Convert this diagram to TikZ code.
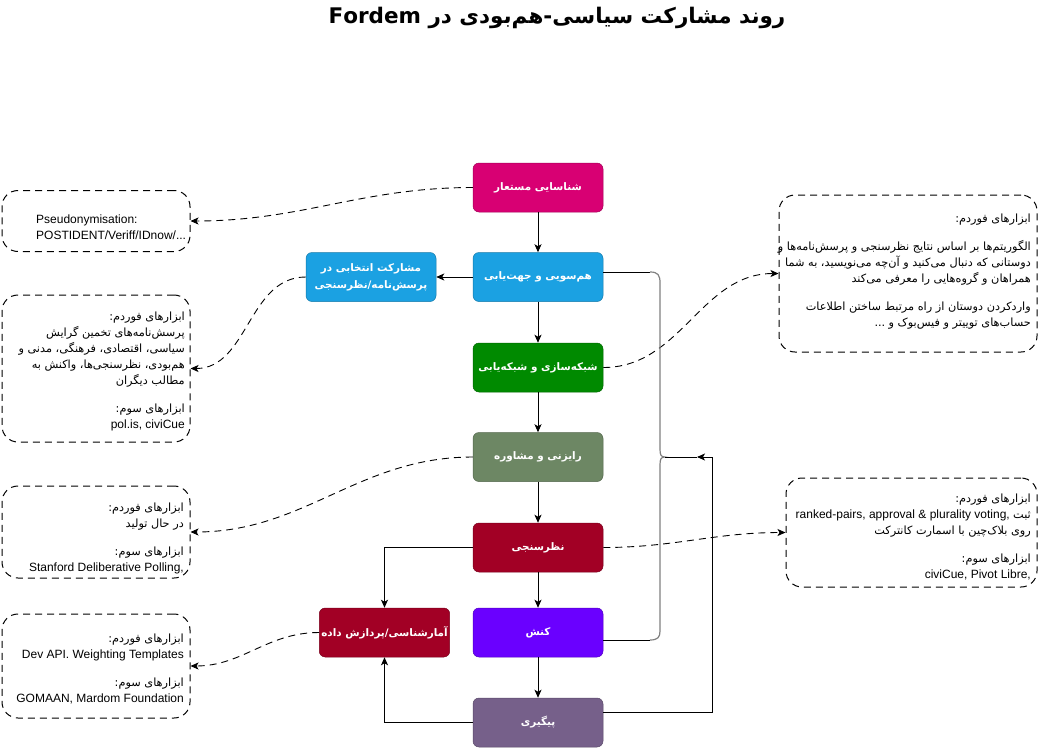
\documentclass[tikz,border=0pt]{standalone}
\usepackage{fontspec}
\usepackage{xcolor}
\setmainfont{Liberation Sans}
\newfontfamily\farsi[Script=Arabic]{DejaVu Sans}
\TeXXeTstate=1
\usetikzlibrary{arrows.meta}
\usetikzlibrary{positioning}
\definecolor{cpink}{HTML}{D80073}
\definecolor{cblue}{HTML}{1BA1E2}
\definecolor{cgreen}{HTML}{008A00}
\definecolor{colive}{HTML}{6D8764}
\definecolor{ccrimson}{HTML}{A20025}
\definecolor{cviolet}{HTML}{6A00FF}
\definecolor{cmauve}{HTML}{76608A}
\newcommand{\fabody}{\farsi\fontsize{11.3}{16}\selectfont}
\newcommand{\rtl}[1]{{\fabody\beginR #1\endR}}
\newcommand{\lab}[1]{\hbox{\fabody:}\rtl{#1}}

\begin{document}
\begin{tikzpicture}[x=1pt,y=-1pt,
  stage/.style={draw=#1!75!black, fill=#1, rounded corners=6pt, minimum width=130pt,
    minimum height=49pt, text=white, align=center, line width=0.5pt, inner sep=2pt,
    font=\farsi\bfseries\fontsize{10.4}{17}\selectfont},
  toolbox/.style={draw, dash pattern=on 7pt off 5pt, rounded corners=16pt, line width=1pt},
  tooltext/.style={inner sep=0pt, font=\fontsize{12}{16}\selectfont},
  arr/.style={-{Stealth[length=8pt,width=7pt,inset=2pt]}, line width=0.9pt},
  link/.style={arr, dash pattern=on 7pt off 5pt},
  brace/.style={draw=gray, line width=1.2pt}]
  \def\cx{538}
  \useasboundingbox (0,0) rectangle (1039,748);

  \node[font=\farsi\bfseries\fontsize{21.5}{26}\selectfont] (title) at (557,18)
    {Fordem {\beginR روند مشارکت سیاسی-هم^^^^200cبودی در\endR}};

  \node[stage=cpink] (pseud) at (\cx,187.5) {\beginR شناسایی مستعار\endR};
  \node[stage=cblue] (align) at (\cx,277) {\beginR هم^^^^200cسویی و جهت^^^^200cیابی\endR};
  \node[stage=cgreen] (network) at (\cx,367.5) {\beginR شبکه^^^^200cسازی و شبکه^^^^200cیابی\endR};
  \node[stage=colive] (consult) at (\cx,457) {\beginR رایزنی و مشاوره\endR};
  \node[stage=ccrimson] (poll) at (\cx,547.5) {\beginR نظرسنجی\endR};
  \node[stage=cviolet] (act) at (\cx,632.5) {\beginR کنش\endR};
  \node[stage=cmauve] (follow) at (\cx,722.5) {\beginR پیگیری\endR};
  \node[stage=ccrimson, minimum width=129pt] (stats) at (384.5,632.5) {\beginR آمارشناسی/پردازش داده\endR};
  \node[stage=cblue] (select) at (371,277)
    {\beginR مشارکت انتخابی در\endR\\\beginR پرسش^^^^200cنامه/نظرسنجی\endR};

  \node[toolbox, minimum width=188pt, minimum height=61pt] (toolA) at (96,221) {};
  \node[tooltext, anchor=west, align=left] (toolAtxt) at (36,227)
    {Pseudonymisation:\\POSTIDENT/Veriff/IDnow/...};

  \node[toolbox, minimum width=188pt, minimum height=147pt] (toolB) at (96,368.5) {};
  \node[tooltext, anchor=east, align=right] (toolBtxt) at (185,371)
    {\lab{ابزارهای فوردم}\\
     \rtl{پرسش^^^^200cنامه^^^^200cهای تخمین گرایش}\\
     \rtl{سیاسی، اقتصادی، فرهنگی، مدنی و}\\
     \rtl{هم^^^^200cبودی، نظرسنجی^^^^200cها، واکنش به}\\
     \rtl{مطالب دیگران}\\[12pt]
     \lab{ابزارهای سوم}\\
     pol.is, civiCue};

  \node[toolbox, minimum width=188pt, minimum height=92pt] (toolC) at (96,532) {};
  \node[tooltext, anchor=east, align=right] (toolCtxt) at (184,538)
    {\lab{ابزارهای فوردم}\\
     \rtl{در حال تولید}\\[12pt]
     \lab{ابزارهای سوم}\\
     Stanford Deliberative Polling,};

  \node[toolbox, minimum width=188pt, minimum height=104pt] (toolD) at (96,666) {};
  \node[tooltext, anchor=east, align=right] (toolDtxt) at (184,669)
    {\lab{ابزارهای فوردم}\\
     Dev API. Weighting Templates\\[12pt]
     \lab{ابزارهای سوم}\\
     GOMAAN, Mardom Foundation};

  \node[toolbox, minimum width=258pt, minimum height=157pt] (toolR) at (908,273.5) {};
  \node[tooltext, anchor=east, align=right] (toolRtxt) at (1031,272)
    {\lab{ابزارهای فوردم}\\[12pt]
     \rtl{الگوریتم^^^^200cها بر اساس نتایج نظرسنجی و پرسش^^^^200cنامه^^^^200cها و}\\
     \rtl{دوستانی که دنبال می^^^^200cکنید و آن^^^^200cچه می^^^^200cنویسید، به شما}\\
     \rtl{همراهان و گروه^^^^200cهایی را معرفی می^^^^200cکند}\\[12pt]
     \rtl{واردکردن دوستان از راه مرتبط ساختن اطلاعات}\\
     \hbox{\fabody...}\ \rtl{حساب^^^^200cهای توییتر و فیس^^^^200cبوک و}};

  \node[toolbox, minimum width=251pt, minimum height=109pt] (toolS) at (911.5,532.5) {};
  \node[tooltext, anchor=east, align=right] (toolStxt) at (1031,537)
    {\lab{ابزارهای فوردم}\\
     ranked-pairs, approval \& plurality voting, \rtl{ثبت}\\
     \rtl{روی بلاک^^^^200cچین با اسمارت کانترکت}\\[12pt]
     \lab{ابزارهای سوم}\\
     civiCue, Pivot Libre,};

  \draw[arr] (pseud) -- (align);
  \draw[arr] (align) -- (network);
  \draw[arr] (network) -- (consult);
  \draw[arr] (consult) -- (poll);
  \draw[arr] (poll) -- (act);
  \draw[arr] (act) -- (follow);
  \draw[arr] (align) -- (select);
  \draw[arr] (poll.west) -| (stats.north);
  \draw[arr] (follow.west) -| (stats.south);

  \draw[link] (pseud.west) to[out=180,in=0] (toolA.east);
  \draw[link] (select.west) to[out=180,in=0] (toolB.east);
  \draw[link] (network.east) to[out=0,in=180] (toolR.west);
  \draw[link] (consult.west) to[out=180,in=0] (toolC.east);
  \draw[link] (poll.east) to[out=0,in=180] (toolS.west);
  \draw[link] (stats.west) to[out=180,in=0] (toolD.east);

  \coordinate (bt) at (650,272);
  \coordinate (bb) at (650,640);
  \coordinate (bm) at (665,457);
  \coordinate (fb) at (712,712);
  \coordinate (fe) at (697,457);
  \draw[line width=0.9pt] (align.east |- bt) -- (bt);
  \draw[line width=0.9pt] (act.east |- bb) -- (bb);
  \draw[brace] (bt) .. controls (658,272) and (660,275) .. (660,283) -- (660,449)
    .. controls (660,455) and (661,457) .. (bm)
    .. controls (661,457) and (660,459) .. (660,465) -- (660,631)
    .. controls (660,637) and (658,640) .. (bb);
  \draw[line width=0.9pt] (bm) -- (fe);
  \draw[arr] (follow.east |- fb) -- (fb) |- (fe);
\end{tikzpicture}
\end{document}
